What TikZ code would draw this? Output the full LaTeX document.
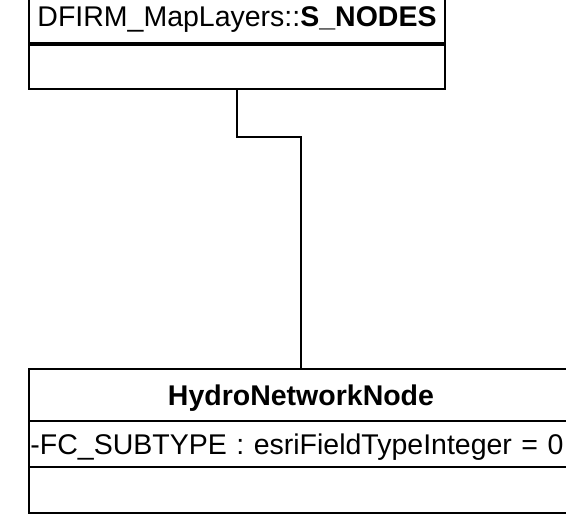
\documentclass[tikz,border=0pt]{standalone}
\usepackage{fontspec}
\setmainfont{Liberation Sans}
\usetikzlibrary{positioning}

\begin{document}
\begin{tikzpicture}[
    x=1pt, y=-1pt,
    every node/.style={
        draw,
        line width=1.8pt,
        inner sep=0pt,
        outer sep=0pt,
        text height=20pt,
        text depth=0pt,
        font=\fontsize{28.5}{32}\selectfont
    },
    topclass/.style={minimum width=416pt},
    lowclass/.style={minimum width=544pt},
    link/.style={line width=1.8pt}
]
\useasboundingbox (0,0) rectangle (566,531);
\clip (0,0) rectangle (566,531);

% DFIRM_MapLayers::S_NODES
\node[topclass, minimum height=56pt, anchor=north west] (snodes) at (29,-12) {DFIRM\_MapLayers::\textbf{S\_NODES}};
\node[topclass, minimum height=45pt, below=0pt of snodes] (snodesops) {};
\draw[line width=3.6pt] (snodes.south west) -- (snodes.south east);

% HydroNetworkNode
\node[lowclass, minimum height=52pt, anchor=north west] (hydro) at (29,369) {\textbf{HydroNetworkNode}};
\node[lowclass, minimum height=46pt, text width=541pt, inner xsep=1.5pt, align=left, below=0pt of hydro] (hydroattr) {-FC\_SUBTYPE : esriFieldTypeInteger = 0};
\node[lowclass, minimum height=46pt, below=0pt of hydroattr] (hydroops) {};

\draw[link] (snodesops.south) -- ++(0,48) -| (hydro.north);

\end{tikzpicture}
\end{document}
